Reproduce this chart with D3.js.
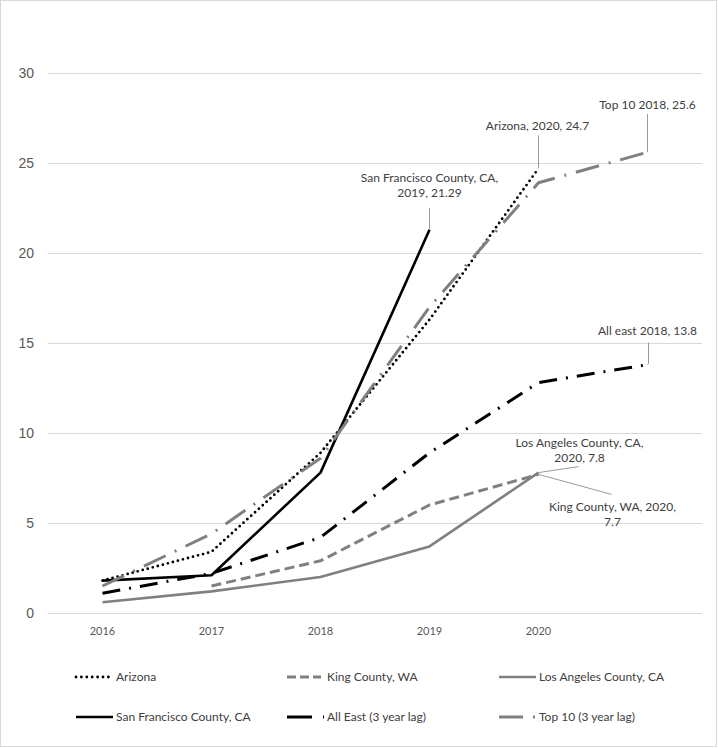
<!DOCTYPE html>
<html>
<head>
<meta charset="utf-8">
<script src="https://cdn.jsdelivr.net/npm/d3@7"></script>
<style>
  html, body { margin: 0; padding: 0; background: #fff; }
  svg { display: block; }
</style>
</head>
<body>
<svg id="chart" width="718" height="748"></svg>
<script>
// ---- data ----
const years = ["2016", "2017", "2018", "2019", "2020", ""];
const yTicks = [0, 5, 10, 15, 20, 25, 30];
const arizona      = [1.8, 3.4, 8.9, 16.3, 24.7, null];
const kingCounty   = [null, 1.5, 2.9, 6.0, 7.7, null];
const losAngeles   = [0.6, 1.2, 2.0, 3.7, 7.8, null];
const sanFrancisco = [1.8, 2.1, 7.8, 21.29, null, null];
const allEast      = [1.1, 2.2, 4.2, 8.9, 12.8, 13.8];
const top10        = [1.5, 4.4, 8.6, 17.0, 23.9, 25.6];
const seriesNames = ["Arizona", "King County, WA", "Los Angeles County, CA",
                     "San Francisco County, CA", "All East (3 year lag)", "Top 10 (3 year lag)"];

(function () {
// ---- styles ----
const GRAY = "#808080";
const styles = [
  { values: arizona,      color: "#000", width: 2.8, dash: "0 5.2", cap: "round", legendDash: "0 5.4" },
  { values: kingCounty,   color: GRAY,   width: 3,   dash: "10 5",  cap: "butt",  legendDash: "9 4" },
  { values: losAngeles,   color: GRAY,   width: 2.6, dash: null,    cap: "butt",  legendDash: null },
  { values: sanFrancisco, color: "#000", width: 2.6, dash: null,    cap: "butt",  legendDash: null },
  { values: allEast,      color: "#000", width: 3,   dash: "18 9 2 9",  cap: "butt", legendDash: "25 11 2 30" },
  { values: top10,        color: GRAY,   width: 3,   dash: "24 10 2 10", cap: "butt", legendDash: "24 10 2 30" }
];

const svg = d3.select("#chart");
const W = 718, H = 748;

// border
svg.append("rect").attr("x", 0.5).attr("y", 0.5).attr("width", W - 2).attr("height", H - 2)
  .attr("fill", "#fff").attr("stroke", "#d9d9d9").attr("stroke-width", 1);

const mLeft = 48, mRight = 702, mTop = 73, mBottom = 613;
const xb = d3.scaleBand().domain(d3.range(years.length)).range([mLeft, mRight]);
const xc = i => xb(i) + xb.bandwidth() / 2;
const y = d3.scaleLinear().domain([0, 30]).range([mBottom, mTop]);

// y axis + gridlines
const yAxis = svg.append("g").attr("transform", `translate(${mLeft},0)`)
  .call(d3.axisLeft(y).tickValues(yTicks).tickSize(-(mRight - mLeft)).tickPadding(14));
yAxis.select(".domain").remove();
yAxis.selectAll(".tick line").attr("stroke", "#d9d9d9").attr("stroke-width", 1);
yAxis.selectAll(".tick text").attr("fill", "#595959")
  .style("font-family", "'Liberation Sans Narrow', 'Arial Narrow', sans-serif").style("font-size", "14px");

// x axis
const xAxis = svg.append("g").attr("transform", `translate(0,${mBottom})`)
  .call(d3.axisBottom(xb).tickFormat(i => years[i]).tickSize(0).tickPadding(14));
xAxis.select(".domain").remove();
xAxis.selectAll(".tick text").attr("fill", "#595959")
  .style("font-family", "Lato, sans-serif").style("font-size", "11px");

// lines
const line = d3.line().defined(d => d != null).x((d, i) => xc(i)).y(d => y(d));
const lineG = svg.append("g");
styles.forEach(s => {
  lineG.append("path")
    .attr("d", line(s.values))
    .attr("fill", "none")
    .attr("stroke", s.color)
    .attr("stroke-width", s.width)
    .attr("stroke-dasharray", s.dash)
    .attr("stroke-linecap", s.cap)
    .attr("stroke-linejoin", "round");
});

// annotations
const annG = svg.append("g").style("font-family", "Lato, sans-serif").style("font-size", "12px").attr("fill", "#404040");
function annotate(px, py, lines, tx, ty, lx, ly) {
  annG.append("line").attr("x1", px).attr("y1", py).attr("x2", lx).attr("y2", ly)
    .attr("stroke", "#9a9a9a").attr("stroke-width", 1);
  lines.forEach((t, k) => {
    annG.append("text").attr("x", tx).attr("y", ty + k * 15).attr("text-anchor", "middle")
      .attr("dy", "0.35em").text(t);
  });
}
// San Francisco 2019
annotate(xc(3), y(sanFrancisco[3]), ["San Francisco County, CA,", "2019, 21.29"],
  xc(3), y(sanFrancisco[3]) - 52, xc(3), y(sanFrancisco[3]) - 22);
// Arizona 2020
annotate(xc(4), y(arizona[4]), ["Arizona, 2020, 24.7"],
  xc(4) - 1, y(arizona[4]) - 43, xc(4), y(arizona[4]) - 33);
// Top 10
annotate(xc(5), y(top10[5]), ["Top 10 2018, 25.6"],
  xc(5), y(top10[5]) - 47, xc(5), y(top10[5]) - 38);
// All East
annG.append("path")
  .attr("d", `M${xc(5)},${y(allEast[5])} L${xc(5) + 1},${y(allEast[5]) - 1} L${xc(5) + 1},${y(allEast[5]) - 22}`)
  .attr("fill", "none").attr("stroke", "#9a9a9a").attr("stroke-width", 1);
annG.append("text").attr("x", xc(5)).attr("y", y(allEast[5]) - 34).attr("text-anchor", "middle")
  .attr("dy", "0.35em").text("All east 2018, 13.8");
// Los Angeles 2020
annotate(xc(4), y(losAngeles[4]), ["Los Angeles County, CA,", "2020, 7.8"],
  xc(4) + 41, y(losAngeles[4]) - 30, xc(4) + 40, y(losAngeles[4]) - 6);
// King County 2020
annotate(xc(4), y(kingCounty[4]), ["King County, WA, 2020,", "7.7"],
  xc(4) + 74, y(kingCounty[4]) + 32, xc(4) + 73, y(kingCounty[4]) + 20);

// legend
const legendG = svg.append("g").style("font-family", "Lato, sans-serif").style("font-size", "12px");
const legendPos = [
  { x: 76, y: 677 }, { x: 287, y: 677 }, { x: 499, y: 677 },
  { x: 76, y: 717 }, { x: 287, y: 717 }, { x: 499, y: 717 }
];
const legendLen = [34, 34, 37, 37, 37, 37];
seriesNames.forEach((name, i) => {
  const s = styles[i], p = legendPos[i];
  legendG.append("line").attr("x1", p.x).attr("x2", p.x + legendLen[i]).attr("y1", p.y).attr("y2", p.y)
    .attr("stroke", s.color).attr("stroke-width", s.width)
    .attr("stroke-dasharray", s.legendDash).attr("stroke-linecap", s.cap);
  legendG.append("text").attr("x", p.x + 40).attr("y", p.y).attr("dy", "0.35em")
    .attr("fill", "#404040").text(name);
});
})();
</script>
</body>
</html>
